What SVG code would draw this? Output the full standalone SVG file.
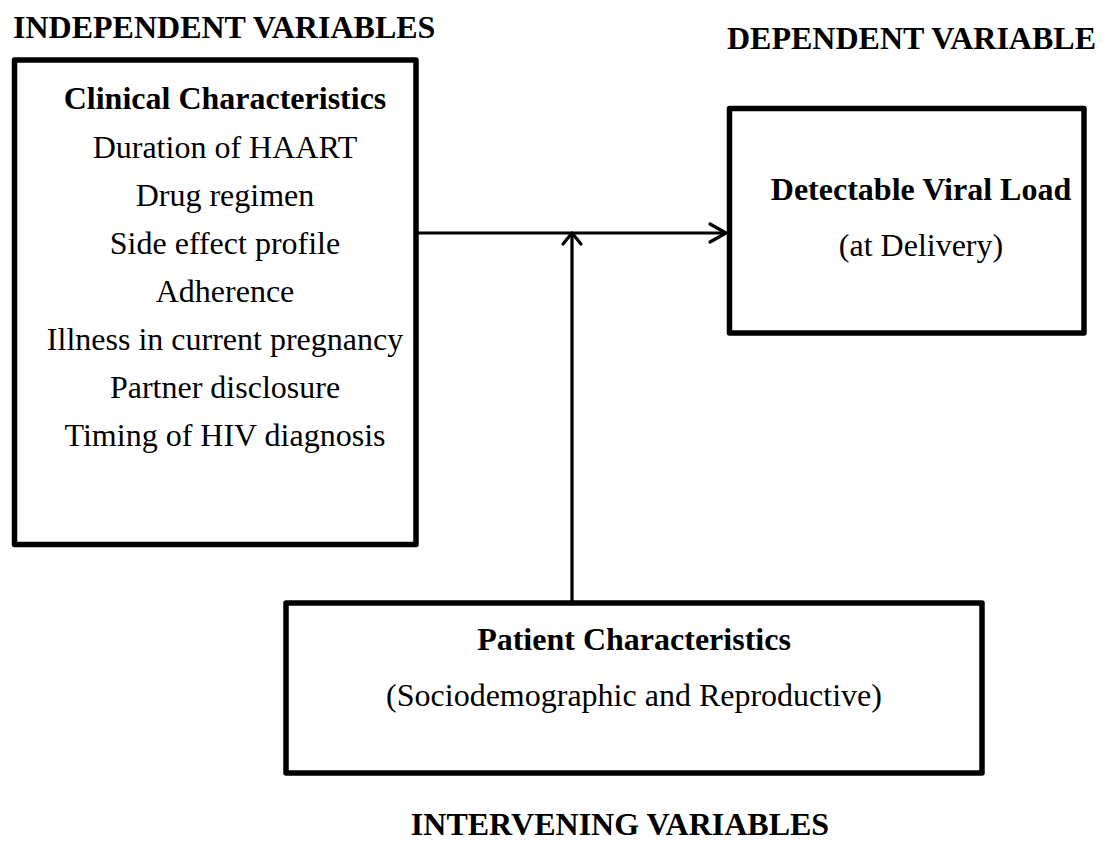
<svg xmlns="http://www.w3.org/2000/svg" width="1107" height="854" viewBox="0 0 1107 854">
<style>
.box{fill:#fff;stroke:#000;stroke-width:5.5;stroke-linejoin:round}
.t{font-family:"Liberation Serif","Times New Roman",serif;font-size:32px;fill:#000}
.b{font-weight:bold}
.c{text-anchor:middle}
.conn{fill:none;stroke:#000;stroke-width:3.2}
.head{fill:none;stroke:#000;stroke-width:3.2;stroke-linecap:round;stroke-linejoin:round}
</style>
<rect width="1107" height="854" fill="#fff"/>
<g id="titles">
<text class="t b" x="13" y="38">INDEPENDENT VARIABLES</text>
<text class="t b" x="727" y="49">DEPENDENT VARIABLE</text>
<text class="t b c" x="620" y="835">INTERVENING VARIABLES</text>
</g>
<g id="connectors">
<line class="conn" x1="418" y1="233" x2="726" y2="233"/>
<polyline class="head" points="710,224 726,233 710,242"/>
<line class="conn" x1="572" y1="601" x2="572" y2="234"/>
<polyline class="head" points="563,244 572,233 581,244"/>
</g>
<g id="clinical">
<rect class="box" x="14.5" y="60" width="401.5" height="484.5"/>
<text class="t b c" x="225" y="109">Clinical Characteristics</text>
<text class="t c" x="225" y="158">Duration of HAART</text>
<text class="t c" x="225" y="206">Drug regimen</text>
<text class="t c" x="225" y="254">Side effect profile</text>
<text class="t c" x="225" y="302">Adherence</text>
<text class="t c" x="225" y="350">Illness in current pregnancy</text>
<text class="t c" x="225" y="398">Partner disclosure</text>
<text class="t c" x="225" y="446">Timing of HIV diagnosis</text>
</g>
<g id="viral-load">
<rect class="box" x="729.5" y="108.5" width="354.5" height="224.5"/>
<text class="t b c" x="921" y="200">Detectable Viral Load</text>
<text class="t c" x="921" y="256">(at Delivery)</text>
</g>
<g id="patient">
<rect class="box" x="286" y="603" width="696" height="170"/>
<text class="t b c" x="634" y="650">Patient Characteristics</text>
<text class="t c" x="634" y="706">(Sociodemographic and Reproductive)</text>
</g>
</svg>
